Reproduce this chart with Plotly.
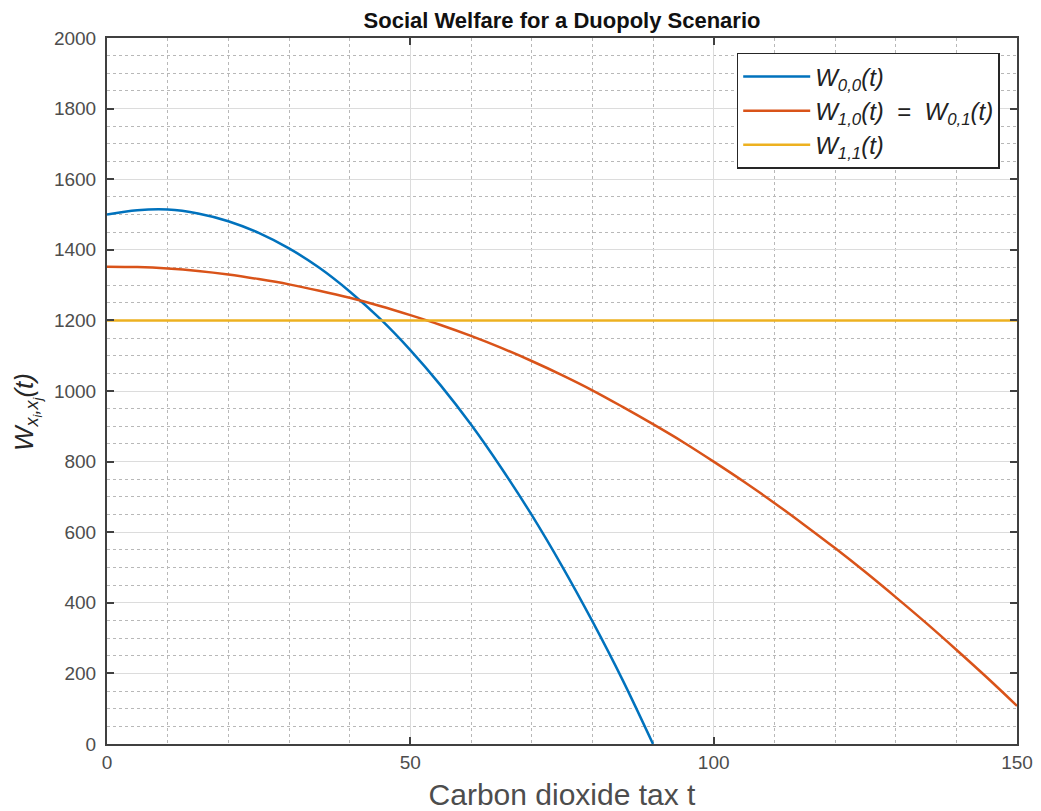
import plotly.graph_objects as go

# tax values (x axis)
t = [0, 5, 10, 15, 20, 25, 30, 35, 40, 45, 50, 55, 60, 65, 70, 75,
     80, 85, 90, 95, 100, 105, 110, 115, 120, 125, 130, 135, 140, 145, 150]

# W_{0,0}(t), ends at t = 90
t_00 = t[:19]
w_00 = [1500, 1512, 1514, 1503, 1481, 1448, 1404, 1349, 1282, 1205,
        1116, 1016, 905, 782, 649, 504, 348, 181, 0]

# W_{1,0}(t) = W_{0,1}(t)
w_10 = [1352, 1351, 1347, 1340, 1330, 1317, 1302, 1284, 1264, 1241,
        1215, 1187, 1156, 1122, 1085, 1045, 1002, 955, 906, 855,
        800, 743, 683, 620, 555, 487, 416, 343, 267, 189, 108]

# W_{1,1}(t), constant
t_11 = [0, 150]
w_11 = [1200, 1200]

FONT = "Liberation Sans, Arial, sans-serif"

fig = go.Figure()

fig.add_trace(go.Scatter(x=t_00, y=w_00, mode="lines", line_shape="spline",
                         line=dict(color="#0072BD", width=2.5),
                         name="<i>W<sub>0,0</sub>(t)</i>"))
fig.add_trace(go.Scatter(x=t, y=w_10, mode="lines", line_shape="spline",
                         line=dict(color="#D95319", width=2.5),
                         name="<i>W<sub>1,0</sub>(t)</i>  =  <i>W<sub>0,1</sub>(t)</i>"))
fig.add_trace(go.Scatter(x=t_11, y=w_11, mode="lines",
                         line=dict(color="#EDB120", width=2.5),
                         name="<i>W<sub>1,1</sub>(t)</i>"))

axis_common = dict(
    showline=True, linecolor="#404040", linewidth=2, mirror="allticks",
    ticks="inside", ticklen=7, tickcolor="#404040", tickwidth=2,
    showgrid=True, gridcolor="#dcdcdc", gridwidth=1,
    zeroline=False,
    tickfont=dict(family=FONT, size=19, color="#4d4d4d"),
)

fig.update_xaxes(
    range=[0, 150], tickvals=[0, 50, 100, 150],
    minor=dict(dtick=10, tick0=0, showgrid=True, griddash="dot",
               gridcolor="#b8b8b8", gridwidth=1, ticks=""),
    title=dict(text="Carbon dioxide tax t", standoff=14,
               font=dict(family=FONT, size=30, color="#4d4d4d")),
    **axis_common,
)
fig.update_yaxes(
    range=[0, 2000], dtick=200, ticklabelstandoff=5,
    minor=dict(dtick=50, tick0=0, showgrid=True, griddash="dot",
               gridcolor="#b8b8b8", gridwidth=1, ticks=""),
    **axis_common,
)

fig.update_layout(
    width=1033, height=803,
    margin=dict(l=99, r=24, t=30, b=67, autoexpand=False),
    paper_bgcolor="white", plot_bgcolor="white",
    title=dict(text="<b>Social Welfare for a Duopoly Scenario</b>",
               xref="paper", x=0.5, xanchor="center",
               yref="container", y=0.985, yanchor="middle",
               font=dict(family=FONT, size=22, color="#111111")),
    legend=dict(x=0.981, y=0.979, xanchor="right", yanchor="top",
                bgcolor="white", bordercolor="#262626", borderwidth=1.5,
                font=dict(family=FONT, size=24, color="#222222"),
                itemwidth=67, tracegroupgap=0),
    showlegend=True,
    annotations=[dict(
        text="<i>W<sub>x<sub>i</sub>,x<sub>j</sub></sub>(t)</i>",
        xref="paper", yref="paper", x=-0.088, y=0.47,
        xanchor="center", yanchor="middle", textangle=-90, showarrow=False,
        font=dict(family=FONT, size=26, color="#262626"),
    )],
)

fig.write_html("out.html")
